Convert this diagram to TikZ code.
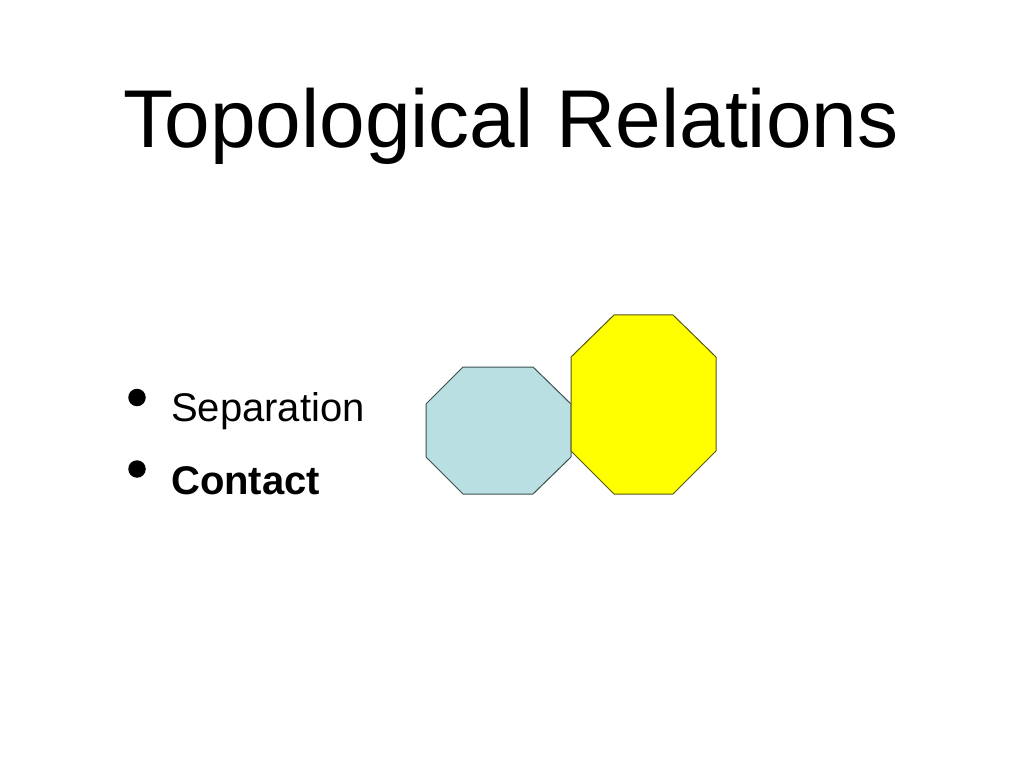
\documentclass[tikz,border=0pt]{standalone}
\usepackage{fontspec}
\setmainfont{Liberation Sans}
\begin{document}
\begin{tikzpicture}[x=1pt,y=-1pt,
  shapeline/.style={line width=1pt, line join=miter},
  bulletdot/.style={circle, fill=black, inner sep=0pt, minimum size=17.5pt},
  itemtext/.style={anchor=base west, inner sep=0pt, font=\fontsize{40}{48}\selectfont}]
\useasboundingbox (0,0) rectangle (1023,767);
\fill[white] (0,0) rectangle (1023,767);
\node[anchor=base, inner sep=0pt, font=\fontsize{82}{98}\selectfont] (title) at (511,147.5) {Topological Relations};
\node[bulletdot] (b1) at (137,397.5) {};
\node[bulletdot] (b2) at (137,469) {};
\node[itemtext] (sep) at (171,421) {Separation};
\node[itemtext] (con) at (171,494) {\bfseries Contact};
\draw[shapeline, draw={rgb,255:red,60;green,80;blue,80}, fill={rgb,255:red,185;green,223;blue,227}]
  (463,367) -- (533,367) -- (571,404) -- (571,457) -- (533,494) -- (463,494) -- (426,457) -- (426,404) -- cycle;
\draw[shapeline, draw={rgb,255:red,85;green,85;blue,20}, fill={rgb,255:red,255;green,255;blue,0}]
  (614,315) -- (673,315) -- (716,357) -- (716,451) -- (673,494) -- (614,494) -- (571,451) -- (571,357) -- cycle;
\end{tikzpicture}
\end{document}
